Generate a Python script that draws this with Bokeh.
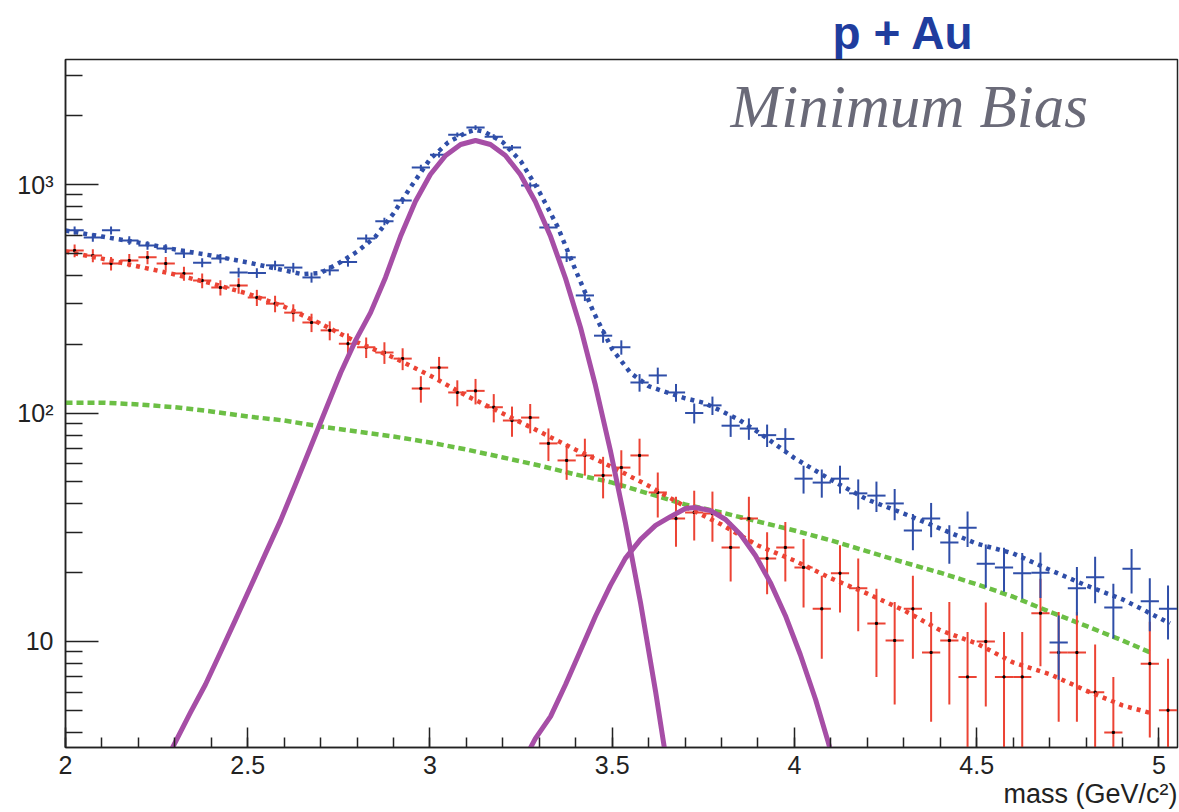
from bokeh.plotting import figure
from bokeh.models import FixedTicker, Label, Range1d, Title
from bokeh.embed import file_html
from bokeh.resources import INLINE

# ---------------- data ----------------
mass_bins = [2.025, 2.075, 2.125, 2.175, 2.225, 2.275, 2.325, 2.375, 2.425, 2.475,
             2.525, 2.575, 2.625, 2.675, 2.725, 2.775, 2.825, 2.875, 2.925, 2.975,
             3.025, 3.075, 3.125, 3.175, 3.225, 3.275, 3.325, 3.375, 3.425, 3.475,
             3.525, 3.575, 3.625, 3.675, 3.725, 3.775, 3.825, 3.875, 3.925, 3.975,
             4.025, 4.075, 4.125, 4.175, 4.225, 4.275, 4.325, 4.375, 4.425, 4.475,
             4.525, 4.575, 4.625, 4.675, 4.725, 4.775, 4.825, 4.875, 4.925, 4.975,
             5.025]
bin_half_width = 0.025

unlike_counts = [630, 586, 630, 569, 541, 525, 499, 455, 474, 412,
                 410, 443, 433, 392, 421, 458, 581, 690, 851, 1187,
                 1350, 1650, 1775, 1620, 1452, 990, 649, 480, 327, 218,
                 194, 136, 146, 123, 100, 108, 88, 85.5, 80, 77,
                 51.6, 49.6, 51.6, 44.5, 43.5, 40.2, 30.6, 34.5, 27.1, 31.5,
                 21.9, 21.1, 19.9, 20.0, 9.9, 17.1, 19.1, 14.1, 20.8, 15.0, 13.9]
unlike_err = [25, 24, 25, 24, 23, 23, 22, 21, 22, 20,
              20, 21, 21, 20, 21, 21, 24, 26, 29, 34,
              37, 41, 42, 40, 38, 31, 25, 22, 18, 15,
              14, 12, 12, 11, 10, 10, 9.4, 9.2, 9, 8.8,
              7.2, 7, 7.2, 6.7, 6.6, 6.3, 5.5, 5.9, 5.2, 5.6,
              4.7, 4.6, 4.5, 4.5, 3.1, 4.1, 4.4, 3.8, 4.6, 3.9, 3.7]

bkg_counts = [514, 489, 451, 465, 480, 451, 408, 380, 354, 361,
              320, 301, 275, 249, 230, 201, 194, 184, 173, 128,
              158, 123, 125, 106, 92.7, 95.5, 73.6, 62, 65.2, 53.3,
              57.7, 65.2, 44.9, 34.5, 36.7, 36.3, 25.8, 34.5, 23.1, 25.8,
              21.1, 13.9, 19.9, 17.1, 12.0, 10.1, 13.9, 8.95, 10.1, 7.0,
              10.0, 7.0, 7.0, 13.3, 8.95, 8.95, 6.0, 4.0, None, 8.0, 5.0]
bkg_err = [33, 32, 31, 31, 32, 31, 29, 28, 27, 28,
           26, 25, 24, 23, 22, 22, 20, 20, 19, 17,
           18, 16, 16, 15, 14, 14, 12, 11, 12, 11,
           11, 12, 10, 8.5, 9, 9, 7.5, 8.5, 7, 7.5,
           7, 5.5, 6.5, 6, 5, 4.8, 5.5, 4.5, 4.8, 4,
           4.8, 4, 4, 5.5, 4.5, 4.5, 3.7, 3, None, 4.2, 3.4]

fit_mass = [2.0, 2.1, 2.2, 2.3, 2.4, 2.5, 2.6, 2.7, 2.8, 2.9,
            3.0, 3.1, 3.2, 3.3, 3.4, 3.5, 3.6, 3.7, 3.8, 3.9,
            4.0, 4.1, 4.2, 4.3, 4.4, 4.5, 4.6, 4.7, 4.8, 4.9, 4.98]
bkg_fit = [509, 474, 438, 404, 369, 333, 292, 246, 204, 175,
           146, 119, 99.5, 83, 69, 58, 48, 39, 32.5, 26.3,
           22.6, 18.9, 16.2, 13.7, 11.2, 9.8, 8.1, 7.2, 6.1, 5.25, 4.85]
corr_fit = [111, 111, 109, 106, 101.6, 96.6, 92.7, 87.3, 83, 78.9,
            74.3, 69.2, 63.9, 58.9, 53.8, 49.6, 44.4, 39.8, 36.7, 33.5,
            30.6, 27.7, 24.8, 22.2, 20.0, 17.8, 15.7, 13.5, 11.7, 10.1, 8.9]

total_fit_mass = [2.0, 2.1, 2.2, 2.3, 2.4, 2.5, 2.6, 2.65, 2.7, 2.75,
                  2.8, 2.85, 2.9, 2.95, 3.0, 3.05, 3.1, 3.125, 3.15, 3.2,
                  3.25, 3.3, 3.35, 3.4, 3.45, 3.5, 3.55, 3.6, 3.65, 3.7,
                  3.75, 3.8, 3.85, 3.9, 3.95, 4.0, 4.1, 4.2, 4.3, 4.4,
                  4.5, 4.6, 4.7, 4.8, 4.9, 5.0, 5.03]
total_fit = [629, 592, 557, 520, 489, 456, 421, 405, 410, 453,
             508, 590, 748, 990, 1290, 1530, 1690, 1735, 1700, 1530,
             1260, 930, 655, 420, 274, 190, 150, 131, 123, 116,
             111, 102, 93, 82.5, 72.5, 63.5, 51, 41.8, 36.3, 31.2,
             26.8, 24.3, 20.6, 17.6, 15.3, 12.7, 12.0]

jpsi_mass = [2.274, 2.294, 2.343, 2.384, 2.425, 2.466, 2.508, 2.549, 2.590, 2.631,
             2.672, 2.713, 2.755, 2.796, 2.837, 2.878, 2.919, 2.960, 3.001, 3.043,
             3.084, 3.125, 3.166, 3.207, 3.248, 3.289, 3.331, 3.372, 3.413, 3.454,
             3.495, 3.536, 3.578, 3.619, 3.646]
jpsi_fit = [2.96, 3.44, 4.89, 6.48, 8.95, 12.4, 17.4, 24.3, 33.8, 48.7,
            70.6, 102.5, 150, 208, 275, 392, 592, 843, 1106, 1339,
            1497, 1558, 1497, 1339, 1106, 843, 592, 388, 237, 132,
            68.5, 33.2, 14.7, 6.04, 3.2]

psi2s_mass = [3.262, 3.289, 3.331, 3.372, 3.413, 3.454, 3.495, 3.536, 3.578, 3.619,
              3.660, 3.701, 3.728, 3.770, 3.811, 3.852, 3.893, 3.934, 3.975, 4.016,
              4.058, 4.093, 4.104]
psi2s_fit = [3.11, 3.76, 4.70, 6.48, 9.13, 12.9, 17.6, 23.1, 28.0, 32.2,
             35.2, 38.2, 38.6, 37.4, 34.2, 29.4, 23.8, 18.1, 13.0, 8.77,
             5.57, 3.61, 3.11]

x_ticks = [2, 2.5, 3, 3.5, 4, 4.5, 5]
x_tick_labels = ["2", "2.5", "3", "3.5", "4", "4.5", "5"]
y_ticks = [10, 100, 1000]
y_tick_labels = ["10", "10\u00b2", "10\u00b3"]

# ---------------- styling / layout ----------------
BLUE = "#2f4ea8"
RED = "#ec4334"
GREEN = "#6cbf45"
PURPLE = "#a64ea6"
INK = "#222222"

p = figure(width=1179, height=812, x_range=Range1d(2.0, 5.051),
           y_range=Range1d(3.436, 3525), y_axis_type="log",
           output_backend="svg", toolbar_location=None,
           min_border_left=65, min_border_right=2,
           min_border_top=59, min_border_bottom=65)
p.xgrid.visible = False
p.ygrid.visible = False
p.outline_line_color = INK
p.outline_line_width = 1.5
p.background_fill_color = "white"
p.border_fill_color = "white"

# top-right collision-system tag (as the plot title, outside the frame)
p.title.text = "p + Au"
p.title.align = "left"
p.title.offset = 767
p.title.standoff = 2
p.title.text_font = "Liberation Sans"
p.title.text_font_style = "bold"
p.title.text_font_size = "46px"
p.title.text_color = "#1f3d9e"

# x axis
p.xaxis.ticker = FixedTicker(ticks=x_ticks,
                             minor_ticks=[2 + 0.1 * i for i in range(31)])
p.xaxis.major_label_overrides = {t: l for t, l in zip(x_ticks, x_tick_labels)}
p.xaxis.major_tick_in = 20
p.xaxis.major_tick_out = 0
p.xaxis.minor_tick_in = 10
p.xaxis.minor_tick_out = 0
p.xaxis.axis_line_width = 1.5
p.xaxis.major_tick_line_width = 1.5
p.xaxis.minor_tick_line_width = 1.5
p.xaxis.axis_line_color = INK
p.xaxis.major_tick_line_color = INK
p.xaxis.minor_tick_line_color = INK
p.xaxis.major_label_text_font = "Liberation Sans"
p.xaxis.major_label_text_font_size = "25px"
p.xaxis.major_label_text_color = INK
p.xaxis.major_label_standoff = 8

# y axis
minor_y = [4, 5, 6, 7, 8, 9, 20, 30, 40, 50, 60, 70, 80, 90,
           200, 300, 400, 500, 600, 700, 800, 900, 2000, 3000]
p.yaxis.ticker = FixedTicker(ticks=y_ticks, minor_ticks=minor_y)
p.yaxis.major_label_overrides = {t: l for t, l in zip(y_ticks, y_tick_labels)}
p.yaxis.major_tick_in = 33
p.yaxis.major_tick_out = 0
p.yaxis.minor_tick_in = 17
p.yaxis.minor_tick_out = 0
p.yaxis.axis_line_width = 1.5
p.yaxis.major_tick_line_width = 1.5
p.yaxis.minor_tick_line_width = 1.5
p.yaxis.axis_line_color = INK
p.yaxis.major_tick_line_color = INK
p.yaxis.minor_tick_line_color = INK
p.yaxis.major_label_text_font = "Liberation Sans"
p.yaxis.major_label_text_font_size = "25px"
p.yaxis.major_label_text_color = INK
p.yaxis.major_label_standoff = 12

# x-axis title, right-aligned under the axis
p.add_layout(Title(text="mass (GeV/c\u00b2)", align="right", offset=0, standoff=0,
                   text_font="Liberation Sans", text_font_style="normal",
                   text_font_size="27px", text_color=INK), "below")

# ---------------- glyphs ----------------
p.line(fit_mass, corr_fit, line_color=GREEN, line_width=4.5, line_dash="7 4")


def cross_segments(xs, ys, es):
    pts = [(x, y, e) for x, y, e in zip(xs, ys, es) if y is not None]
    hx0 = [x - bin_half_width for x, y, e in pts]
    hx1 = [x + bin_half_width for x, y, e in pts]
    hy = [y for x, y, e in pts]
    vx = [x for x, y, e in pts]
    vy0 = [max(y - e, 0.05) for x, y, e in pts]
    vy1 = [y + e for x, y, e in pts]
    return hx0, hx1, hy, vx, vy0, vy1


hx0, hx1, hy, vx, vy0, vy1 = cross_segments(mass_bins, bkg_counts, bkg_err)
p.segment(hx0, hy, hx1, hy, line_color=RED, line_width=2)
p.segment(vx, vy0, vx, vy1, line_color=RED, line_width=2)
p.scatter(vx, hy, marker="square", size=2, color="black")

hx0, hx1, hy, vx, vy0, vy1 = cross_segments(mass_bins, unlike_counts, unlike_err)
p.segment(hx0, hy, hx1, hy, line_color=BLUE, line_width=2)
p.segment(vx, vy0, vx, vy1, line_color=BLUE, line_width=2)

p.line(fit_mass, bkg_fit, line_color=RED, line_width=4.5, line_dash="4 5")
p.line(total_fit_mass, total_fit, line_color=BLUE, line_width=4.5, line_dash="4 5")
p.line(jpsi_mass, jpsi_fit, line_color=PURPLE, line_width=5, line_join="round")
p.line(psi2s_mass, psi2s_fit, line_color=PURPLE, line_width=5, line_join="round")


# ---------------- in-frame text ----------------
def py_to_val(py):
    return 10 ** (3 - (py - 184) / 228.5)


def px_to_mass(px):
    return 2 + (px - 65) / 364.5


p.add_layout(Label(x=px_to_mass(730), y=py_to_val(106), text="Minimum Bias",
                   text_font="Liberation Serif", text_font_style="italic",
                   text_font_size="61px", text_color="#6a6a78",
                   text_baseline="alphabetic", text_align="left"))

open("out.html", "w").write(file_html(p, INLINE))
